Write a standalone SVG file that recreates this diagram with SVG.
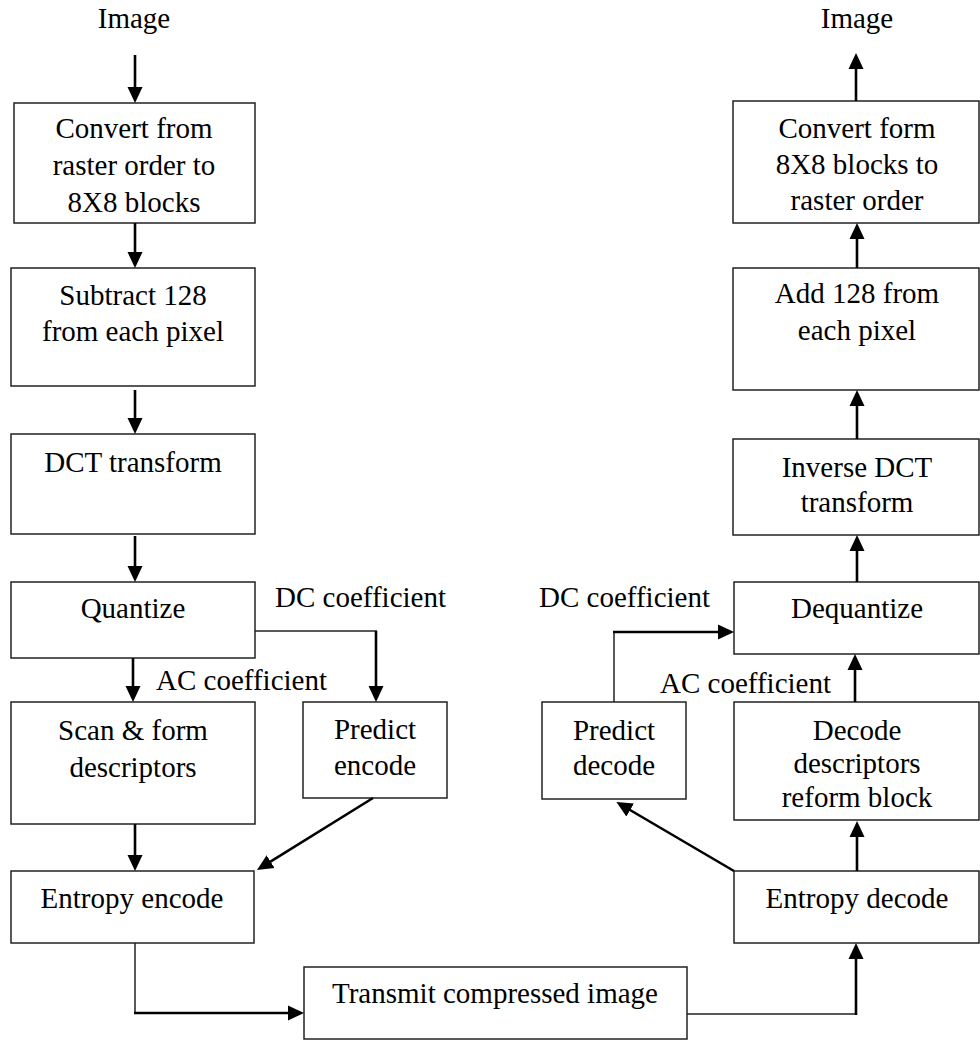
<svg xmlns="http://www.w3.org/2000/svg" width="980" height="1041" viewBox="0 0 980 1041">
<style>
  .box { fill: #fff; stroke: #222; stroke-width: 1.5; }
  text { font-family: "Liberation Serif", "Times New Roman", serif; font-size: 29px; fill: #000; }
  .c { text-anchor: middle; }
  .thick { fill: none; stroke: #000; stroke-width: 2.6; }
  .thin { fill: none; stroke: #222; stroke-width: 1.5; }
</style>
<defs>
  <marker id="ah" markerUnits="userSpaceOnUse" markerWidth="16" markerHeight="16" viewBox="0 0 16 16" refX="12" refY="8" orient="auto">
    <path d="M0,0.5 L16,8 L0,15.5 z" fill="#000"/>
  </marker>
</defs>
<rect width="980" height="1041" fill="#fff"/>

<text x="134" y="28" class="c">Image</text>
<text x="857" y="28" class="c">Image</text>

<g id="convert-to-blocks">
  <rect class="box" x="14" y="103" width="241" height="120"/>
  <text x="134" y="138" class="c">Convert from</text>
  <text x="134" y="175" class="c">raster order to</text>
  <text x="134" y="212" class="c">8X8 blocks</text>
</g>
<g id="subtract-128">
  <rect class="box" x="11" y="268" width="244" height="118"/>
  <text x="133" y="305" class="c">Subtract 128</text>
  <text x="133" y="341" class="c">from each pixel</text>
</g>
<g id="dct">
  <rect class="box" x="11" y="434" width="244" height="100"/>
  <text x="133" y="472" class="c">DCT transform</text>
</g>
<g id="quantize">
  <rect class="box" x="11" y="582" width="244" height="76"/>
  <text x="133" y="618" class="c">Quantize</text>
</g>
<g id="scan">
  <rect class="box" x="11" y="702" width="244" height="122"/>
  <text x="133" y="740" class="c">Scan &amp; form</text>
  <text x="133" y="777" class="c">descriptors</text>
</g>
<g id="predict-encode">
  <rect class="box" x="303" y="702" width="144" height="96"/>
  <text x="375" y="739" class="c">Predict</text>
  <text x="375" y="775" class="c">encode</text>
</g>
<g id="entropy-encode">
  <rect class="box" x="11" y="871" width="243" height="72"/>
  <text x="132" y="908" class="c">Entropy encode</text>
</g>
<g id="transmit">
  <rect class="box" x="304" y="967" width="383" height="72"/>
  <text x="495" y="1003" class="c">Transmit compressed image</text>
</g>

<g id="convert-to-raster">
  <rect class="box" x="733" y="101" width="246" height="122"/>
  <text x="857" y="138" class="c">Convert form</text>
  <text x="857" y="174" class="c">8X8 blocks to</text>
  <text x="857" y="210" class="c">raster order</text>
</g>
<g id="add-128">
  <rect class="box" x="733" y="268" width="246" height="122"/>
  <text x="857" y="303" class="c">Add 128 from</text>
  <text x="857" y="340" class="c">each pixel</text>
</g>
<g id="inverse-dct">
  <rect class="box" x="733" y="439" width="246" height="96"/>
  <text x="857" y="477" class="c">Inverse DCT</text>
  <text x="857" y="512" class="c">transform</text>
</g>
<g id="dequantize">
  <rect class="box" x="734" y="582" width="245" height="72"/>
  <text x="857" y="618" class="c">Dequantize</text>
</g>
<g id="predict-decode">
  <rect class="box" x="542" y="702" width="144" height="97"/>
  <text x="614" y="740" class="c">Predict</text>
  <text x="614" y="775" class="c">decode</text>
</g>
<g id="decode-descriptors">
  <rect class="box" x="734" y="702" width="245" height="118"/>
  <text x="857" y="740" class="c">Decode</text>
  <text x="857" y="773" class="c">descriptors</text>
  <text x="857" y="807" class="c">reform block</text>
</g>
<g id="entropy-decode">
  <rect class="box" x="734" y="871" width="245" height="72"/>
  <text x="857" y="908" class="c">Entropy decode</text>
</g>

<text x="275" y="607">DC coefficient</text>
<text x="156" y="690">AC coefficient</text>
<text x="539" y="607">DC coefficient</text>
<text x="660" y="693">AC coefficient</text>

<g id="connectors">
  <line class="thick" x1="135" y1="55" x2="135" y2="99" marker-end="url(#ah)"/>
  <line class="thick" x1="135" y1="223" x2="135" y2="264" marker-end="url(#ah)"/>
  <line class="thick" x1="135" y1="390" x2="135" y2="430" marker-end="url(#ah)"/>
  <line class="thick" x1="135" y1="536" x2="135" y2="578" marker-end="url(#ah)"/>
  <line class="thick" x1="133" y1="658" x2="133" y2="698" marker-end="url(#ah)"/>
  <line class="thin" x1="255" y1="631" x2="377" y2="631"/>
  <line class="thick" x1="376" y1="631" x2="376" y2="698" marker-end="url(#ah)"/>
  <line class="thick" x1="135" y1="824" x2="135" y2="867" marker-end="url(#ah)"/>
  <line class="thick" x1="373" y1="798" x2="260.4" y2="867.9" marker-end="url(#ah)"/>
  <line class="thin" x1="135" y1="943" x2="135" y2="1013"/>
  <line class="thick" x1="134" y1="1013" x2="300" y2="1013" marker-end="url(#ah)"/>
  <line class="thin" x1="687" y1="1014" x2="857" y2="1014"/>
  <line class="thick" x1="856" y1="1015" x2="856" y2="947" marker-end="url(#ah)"/>
  <line class="thick" x1="857" y1="871" x2="857" y2="825" marker-end="url(#ah)"/>
  <line class="thick" x1="734" y1="871" x2="619.8" y2="804.0" marker-end="url(#ah)"/>
  <line class="thick" x1="855" y1="702" x2="855" y2="658" marker-end="url(#ah)"/>
  <line class="thin" x1="614" y1="702" x2="614" y2="632"/>
  <line class="thick" x1="613" y1="632" x2="730" y2="632" marker-end="url(#ah)"/>
  <line class="thick" x1="857" y1="582" x2="857" y2="539" marker-end="url(#ah)"/>
  <line class="thick" x1="857" y1="439" x2="857" y2="394" marker-end="url(#ah)"/>
  <line class="thick" x1="857" y1="268" x2="857" y2="227" marker-end="url(#ah)"/>
  <line class="thick" x1="856" y1="101" x2="856" y2="57" marker-end="url(#ah)"/>
</g>
</svg>
